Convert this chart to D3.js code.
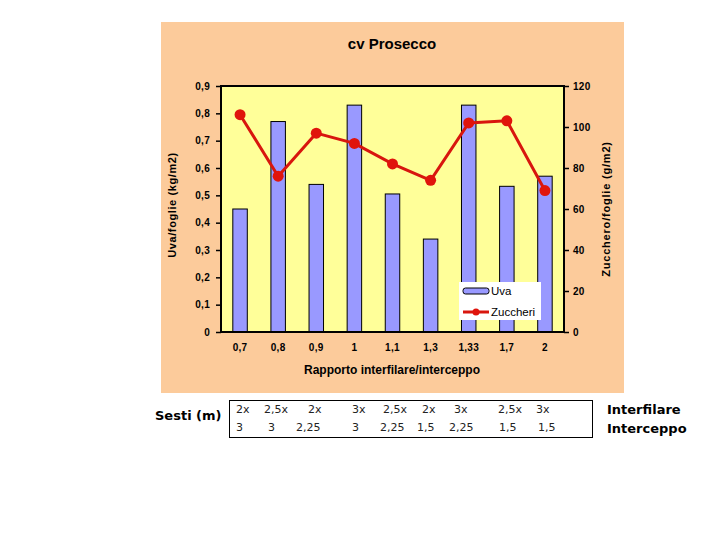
<!DOCTYPE html>
<html><head><meta charset="utf-8">
<script src="https://cdn.jsdelivr.net/npm/d3@7"></script>
<style>body{margin:0;background:#fff}svg{display:block}</style>
</head><body><svg id="c" width="720" height="540"></svg>
<script>
const categories = ["0,7","0,8","0,9","1","1,1","1,3","1,33","1,7","2"];
const uva = [0.45,0.77,0.54,0.83,0.505,0.34,0.83,0.533,0.57];
const zuccheri = [106,76,97,92,82,74,102,103,69];
const leftTicks = [0,0.1,0.2,0.3,0.4,0.5,0.6,0.7,0.8,0.9];
const rightTicks = [0,20,40,60,80,100,120];
const sestiInterfilare = ["2x","2,5x","2x","3x","2,5x","2x","3x","2,5x","3x"];
const sestiInterceppo = ["3","3","2,25","3","2,25","1,5","2,25","1,5","1,5"];

const svg = d3.select("#c");
const F = "'Liberation Sans', Arial, sans-serif";
const L = 221, R = 564, T = 86, B = 332;

svg.append("rect").attr("x",161).attr("y",22).attr("width",463).attr("height",371).attr("fill","#FCCB9B");
svg.append("rect").attr("x",L).attr("y",T).attr("width",R-L).attr("height",B-T).attr("fill","#FFFF99");

const x = d3.scaleBand().domain(categories).range([L,R]).padding(0);
const yL = d3.scaleLinear().domain([0,0.9]).range([B,T]);
const yR = d3.scaleLinear().domain([0,120]).range([B,T]);
const bw = x.bandwidth()*0.38;

svg.append("g").selectAll("rect").data(uva).join("rect")
  .attr("x",(d,i)=>x(categories[i])+x.bandwidth()/2-bw/2)
  .attr("y",d=>yL(d)).attr("width",bw).attr("height",d=>B-yL(d))
  .attr("fill","#9999FF").attr("stroke","#000").attr("stroke-width",1);

svg.append("rect").attr("x",L).attr("y",T).attr("width",R-L).attr("height",B-T)
  .attr("fill","none").attr("stroke","#000").attr("stroke-width",2);

const line = d3.line().x((d,i)=>x(categories[i])+x.bandwidth()/2).y(d=>yR(d));
svg.append("path").datum(zuccheri).attr("d",line).attr("fill","none")
  .attr("stroke","#D8160E").attr("stroke-width",3);
svg.append("g").selectAll("circle").data(zuccheri).join("circle")
  .attr("cx",(d,i)=>x(categories[i])+x.bandwidth()/2).attr("cy",d=>yR(d)).attr("r",5.5)
  .attr("fill","#E0140C");

const axL = svg.append("g").attr("transform",`translate(${L},0)`)
  .call(d3.axisLeft(yL).tickValues(leftTicks).tickSize(5).tickPadding(6));
const axR = svg.append("g").attr("transform",`translate(${R},0)`)
  .call(d3.axisRight(yR).tickValues(rightTicks).tickSize(5).tickPadding(4));
const axB = svg.append("g").attr("transform",`translate(0,${B})`)
  .call(d3.axisBottom(x).tickSize(0).tickPadding(12));
[axL,axR,axB].forEach(a=>{
  a.select(".domain").remove();
  a.selectAll("line").attr("stroke","#000").attr("stroke-width",1.5);
  a.selectAll("text").attr("font-family",F).attr("font-size",10).attr("font-weight","bold")
    .attr("letter-spacing",0.3).attr("fill","#000");
});
axL.selectAll("text").text(d=> d===0 ? "0" : d3.format(".1f")(d).replace(".",","));

svg.append("text").attr("x",392).attr("y",49).attr("text-anchor","middle")
  .attr("font-family",F).attr("font-size",15).attr("font-weight","bold").text("cv Prosecco");
svg.append("text").attr("x",392).attr("y",374).attr("text-anchor","middle")
  .attr("font-family",F).attr("font-size",12).attr("font-weight","bold").text("Rapporto interfilare/interceppo");
svg.append("text").attr("transform","translate(176,205) rotate(-90)").attr("text-anchor","middle")
  .attr("font-family",F).attr("font-size",11).attr("font-weight","bold").attr("letter-spacing",0.6).text("Uva/foglie  (kg/m2)");
svg.append("text").attr("transform","translate(610,209) rotate(-90)").attr("text-anchor","middle")
  .attr("font-family",F).attr("font-size",11).attr("font-weight","bold").attr("letter-spacing",0.8).text("Zucchero/foglie  (g/m2)");

const lg = svg.append("g");
lg.append("rect").attr("x",459).attr("y",282).attr("width",82).attr("height",38).attr("fill","#fff");
lg.append("rect").attr("x",463).attr("y",288).attr("width",26).attr("height",6).attr("rx",2.5)
  .attr("fill","#9999FF").attr("stroke","#000").attr("stroke-width",1);
lg.append("text").attr("x",491).attr("y",295).attr("font-family",F).attr("font-size",11.5).text("Uva");
lg.append("line").attr("x1",463).attr("x2",489).attr("y1",312).attr("y2",312).attr("stroke","#D8160E").attr("stroke-width",3);
lg.append("circle").attr("cx",476).attr("cy",312).attr("r",3.5).attr("fill","#E0140C");
lg.append("text").attr("x",491).attr("y",316).attr("font-family",F).attr("font-size",11.5).text("Zuccheri");

const CF = "'DejaVu Sans', sans-serif";
svg.append("text").attr("x",155).attr("y",420).attr("font-family",CF).attr("font-size",13).attr("font-weight","bold").text("Sesti (m)");
svg.append("rect").attr("x",229.5).attr("y",400.5).attr("width",363).attr("height",37).attr("fill","none").attr("stroke","#000").attr("stroke-width",1);
const col1 = [236,264,308,352,383,422,454,498,536];
const col2 = [236,268,296,352,380,417,449,499,538];
svg.append("g").selectAll("text").data(sestiInterfilare).join("text")
  .attr("x",(d,i)=>col1[i]).attr("y",413).attr("font-family",CF).attr("font-size",11).attr("fill","#222").text(d=>d);
svg.append("g").selectAll("text").data(sestiInterceppo).join("text")
  .attr("x",(d,i)=>col2[i]).attr("y",431).attr("font-family",CF).attr("font-size",11).attr("fill","#222").text(d=>d);
svg.append("text").attr("x",607).attr("y",414).attr("font-family",CF).attr("font-size",13).attr("font-weight","bold").text("Interfilare");
svg.append("text").attr("x",607).attr("y",433).attr("font-family",CF).attr("font-size",13).attr("font-weight","bold").text("Interceppo");
</script></body></html>
